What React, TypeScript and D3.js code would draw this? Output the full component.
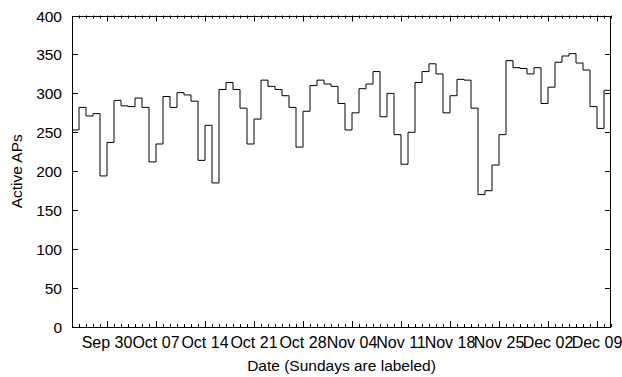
import React from "react";
import * as d3 from "d3";

const startDate = new Date(Date.UTC(2007, 8, 25));
const endDate = new Date(Date.UTC(2007, 11, 11));

// Daily active APs, Sep 25 .. Dec 10
const activeAPs = [
  253, 282, 271, 274, 194, 237,
  291, 284, 283, 294, 282, 212, 235, 296, 282, 301, 298, 290, 214, 259,
  185, 305, 314, 305, 281, 235, 267, 317, 309, 305, 297, 282, 231, 277,
  310, 317, 312,
  309, 287, 253, 275, 306, 312, 328, 270, 300, 247, 209, 250, 314, 328,
  338, 325, 275, 297, 318, 317, 281, 170, 175, 208, 247, 342, 333, 332,
  325, 333,
  287, 308, 340, 348, 351, 339, 330, 283, 255, 304,
];

const sundayLabels = [
  "Sep 30", "Oct 07", "Oct 14", "Oct 21", "Oct 28",
  "Nov 04", "Nov 11", "Nov 18", "Nov 25", "Dec 02", "Dec 09",
];

const yTicks = [0, 50, 100, 150, 200, 250, 300, 350, 400];

const W = 622;
const H = 377;
const L = 72;
const R = 611;
const T = 15.5;
const B = 327;
const FONT = "'Liberation Sans', Arial, Helvetica, sans-serif";
const FS = 15.5;

export default function App() {
  const x = d3.scaleUtc().domain([startDate, endDate]).range([L, R]);
  const y = d3.scaleLinear().domain([0, 400]).range([B, T]);

  const pts: [Date, number][] = activeAPs.map((v, i) => [d3.utcDay.offset(startDate, i), v]);
  pts.push([d3.utcDay.offset(startDate, activeAPs.length), activeAPs[activeAPs.length - 1]]);
  const line = d3
    .line<[Date, number]>()
    .x((d) => x(d[0]))
    .y((d) => y(d[1]))
    .curve(d3.curveStepAfter);

  const sundays = d3.utcSunday.range(startDate, endDate);
  const days = d3.utcDay.range(d3.utcDay.offset(startDate, 1), d3.utcDay.offset(endDate, 1));
  const minor = days.filter((d) => d.getUTCDay() !== 0);

  const major = 6;
  const minorLen = 3;

  return (
    <svg
      width={W}
      height={H}
      style={{ position: "absolute", left: 0, top: 0, background: "#fff" }}
      fontFamily={FONT}
      fontSize={FS}
    >
      <rect x={0} y={0} width={W} height={H} fill="#fff" />
      {/* y ticks */}
      {yTicks.map((t) => {
        const yy = Math.round(y(t)) + 0.5;
        return (
          <g key={"y" + t}>
            <line x1={L} x2={L + major} y1={yy} y2={yy} stroke="#000" />
            <line x1={R - major} x2={R} y1={yy} y2={yy} stroke="#000" />
            <text x={L - 10} y={yy} dy="0.36em" textAnchor="end">
              {t}
            </text>
          </g>
        );
      })}
      {/* minor x ticks */}
      {minor.map((d, i) => {
        const xx = Math.round(x(d)) + 0.5;
        return (
          <g key={"m" + i}>
            <line x1={xx} x2={xx} y1={B} y2={B - minorLen} stroke="#000" />
            <line x1={xx} x2={xx} y1={T} y2={T + minorLen} stroke="#000" />
          </g>
        );
      })}
      {/* major x ticks */}
      {sundays.map((d, i) => {
        const xx = Math.round(x(d)) + 0.5;
        return (
          <g key={"s" + i}>
            <line x1={xx} x2={xx} y1={B} y2={B - major} stroke="#000" />
            <line x1={xx} x2={xx} y1={T} y2={T + major} stroke="#000" />
            <text x={x(d)} y={348} textAnchor="middle" fontSize={16}>
              {sundayLabels[i]}
            </text>
          </g>
        );
      })}
      {/* data */}
      <path d={line(pts) || ""} fill="none" stroke="#000" strokeWidth={1} />
      {/* border */}
      <rect
        x={L + 0.5}
        y={Math.round(T) + 0.5}
        width={R - L - 1}
        height={Math.round(B) - Math.round(T)}
        fill="none"
        stroke="#000"
      />
      <text x={(L + R) / 2} y={371} textAnchor="middle">
        Date (Sundays are labeled)
      </text>
      <text transform={`translate(22,${(T + B) / 2}) rotate(-90)`} textAnchor="middle">
        Active APs
      </text>
    </svg>
  );
}
